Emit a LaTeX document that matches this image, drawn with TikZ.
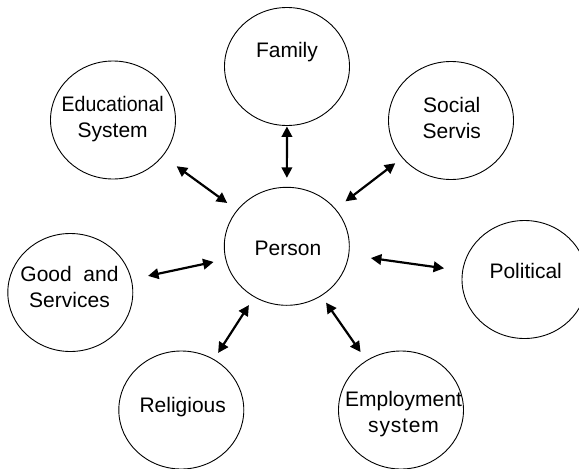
\documentclass[tikz,border=0pt]{standalone}
\usepackage{fontspec}
\setmainfont{Liberation Sans}
\usetikzlibrary{shapes.geometric,arrows.meta}
\begin{document}
\begin{tikzpicture}[x=1pt,y=-1pt,
  circ/.style={draw, ellipse, minimum width=125pt, minimum height=118pt, inner sep=0pt, line width=0.9pt},
  lbl/.style={font=\fontsize{21}{26}\selectfont, align=center, inner sep=0pt},
  conn/.style={{Triangle[length=10.5pt,width=10.5pt]}-{Triangle[length=10.5pt,width=10.5pt]}, line width=2.2pt}]
\useasboundingbox (0,0) rectangle (579,469);
% circles
\node[circ] (family) at (287,66.5) {};
\node[circ] (edu) at (113,120) {};
\node[circ] (social) at (451,120.5) {};
\node[circ] (political) at (524.5,279.5) {};
\node[circ] (person) at (286.8,246.3) {};
\node[circ] (good) at (70.3,292.5) {};
\node[circ] (religious) at (181.3,410) {};
\node[circ] (employment) at (401,410) {};
% labels
\node[lbl, anchor=base] (familyT) at (287,57.4) {Family};
\node[lbl] (eduT) at (112.7,119.5) {\scalebox{0.93}[1]{Educational}\\System};
\node[lbl] (socialT) at (451.8,118.3) {Social\\Servis};
\node[lbl, anchor=base] (politicalT) at (525.7,278.1) {Political};
\node[lbl, anchor=base] (personT) at (288,255.4) {Person};
\node[lbl] (goodT) at (69.5,286.6) {Good~~and\\Services};
\node[lbl, anchor=base] (religiousT) at (182.7,412.4) {Religious};
\node[lbl] (employmentT) at (403.5,414.5) {Employment\\s\kern0.8pt y\kern0.8pt s\kern0.8pt t\kern0.8pt e\kern0.8pt m};
% connectors
\draw[conn, shorten <=0.5pt, shorten >=9pt] (family) -- (person);
\draw[conn, shorten <=17pt, shorten >=12pt] (edu) -- (person);
\draw[conn, shorten <=8.6pt, shorten >=12.3pt] (social) -- (person);
\draw[conn, shorten <=22pt, shorten >=18.3pt] (person) -- (political);
\draw[conn, shorten <=8.1pt, shorten >=10.1pt] (person) -- (employment);
\draw[conn, shorten <=16.7pt, shorten >=12.1pt] (good) -- (person);
\draw[conn, shorten <=7.5pt, shorten >=9.5pt] (religious) -- (person);
\end{tikzpicture}
\end{document}
